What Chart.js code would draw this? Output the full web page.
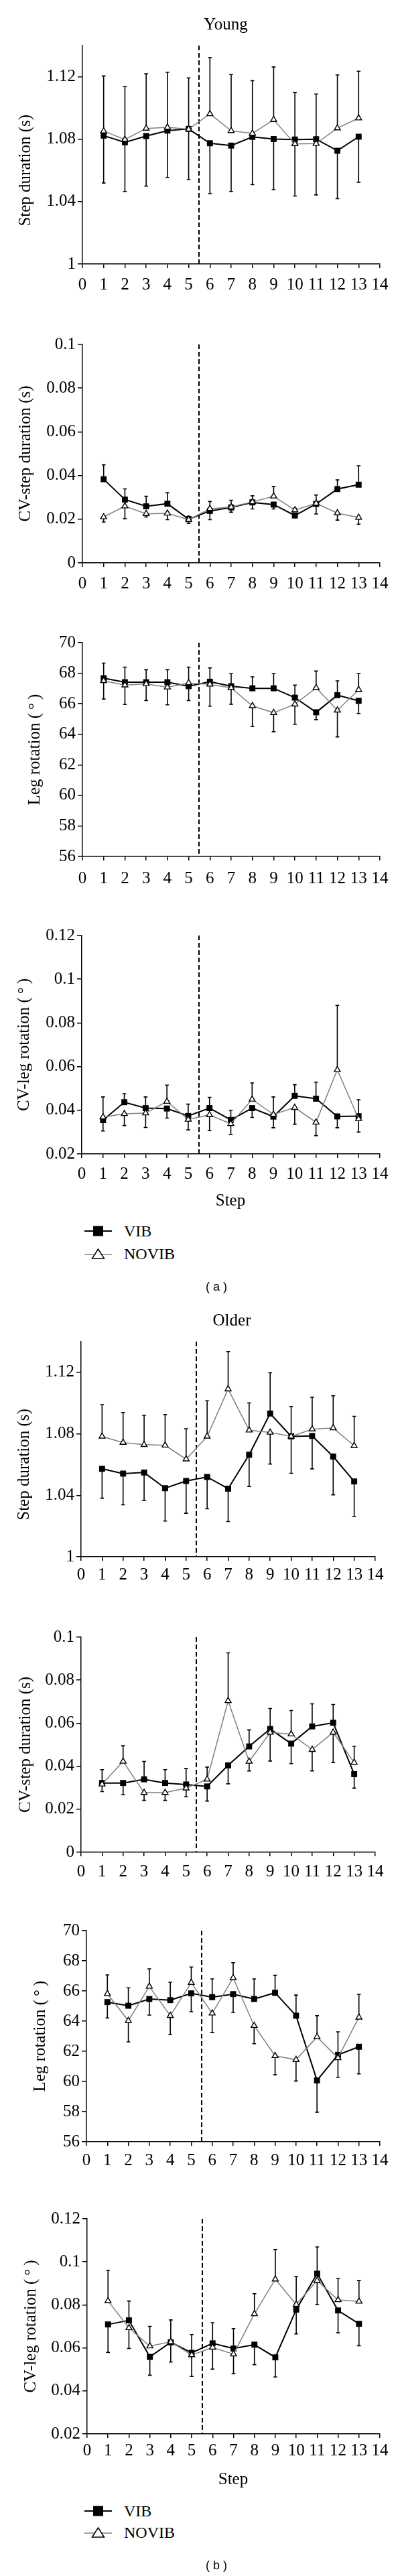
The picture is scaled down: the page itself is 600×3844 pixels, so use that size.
<!DOCTYPE html>
<html>
<head>
<meta charset="utf-8">
<script src="https://cdn.jsdelivr.net/npm/chart.js@4/dist/chart.umd.min.js"></script>
<style>
html,body{margin:0;padding:0;background:#fff;}
body{width:600px;height:3844px;position:relative;overflow:hidden;font-family:"Liberation Serif",serif;color:#000;}
.panel{position:absolute;left:0;width:600px;}
.txt{position:absolute;white-space:nowrap;line-height:1;transform:translate(-50%,-50%);font-size:25px;}
.cap{font-family:"Liberation Sans",Arial,sans-serif;font-size:18px;}
.legrow{position:absolute;left:126px;height:24px;display:flex;align-items:center;transform:translateY(-50%);font-size:24px;line-height:1;}
.legrow svg{display:block;margin-right:17px;}
</style>
</head>
<body>
<script>
// ---------- shared axis definitions ----------
const steps = [1, 2, 3, 4, 5, 6, 7, 8, 9, 10, 11, 12, 13];
const xTicks = [0, 1, 2, 3, 4, 5, 6, 7, 8, 9, 10, 11, 12, 13, 14];
const phaseBoundary = 5.5;
const stepDurTicks = [1, 1.04, 1.08, 1.12];
const cvStepTicks = [0, 0.02, 0.04, 0.06, 0.08, 0.1];
const legRotTicks = [56, 58, 60, 62, 64, 66, 68, 70];
const cvLegTicks = [0.02, 0.04, 0.06, 0.08, 0.1, 0.12];

// ---------- (a) Young ----------
const youngStepVIB      = [1.0823, 1.078, 1.082, 1.0855, 1.0866, 1.0774, 1.0759, 1.0815, 1.0801, 1.0798, 1.080, 1.0726, 1.0816];
const youngStepNOVIB    = [1.0852, 1.0798, 1.0869, 1.0876, 1.0864, 1.0962, 1.0854, 1.0837, 1.0925, 1.077, 1.0772, 1.0871, 1.0935];
const youngStepVIBErr   = [1.0519, 1.0465, 1.0499, 1.0555, 1.1193, 1.0451, 1.0465, 1.0509, 1.0477, 1.110, 1.109, 1.0419, 1.0524];
const youngStepNOVIBErr = [1.1205, 1.1137, 1.1219, 1.1229, 1.0541, 1.1322, 1.1214, 1.1175, 1.1263, 1.0436, 1.0443, 1.1212, 1.1236];

const youngCvStepVIB      = [0.0383, 0.0290, 0.0259, 0.0271, 0.0200, 0.0238, 0.0254, 0.0277, 0.0267, 0.0217, 0.0270, 0.0338, 0.0358];
const youngCvStepNOVIB    = [0.0210, 0.0260, 0.0225, 0.0227, 0.0198, 0.0248, 0.0256, 0.0279, 0.0305, 0.0242, 0.0273, 0.0228, 0.0208];
const youngCvStepVIBErr   = [0.0449, 0.0339, 0.0305, 0.0321, 0.0214, 0.0198, 0.0232, 0.0247, 0.0247, 0.0208, 0.0224, 0.0380, 0.0445];
const youngCvStepNOVIBErr = [0.0187, 0.0202, 0.0210, 0.0198, 0.0180, 0.0281, 0.0287, 0.0307, 0.0350, 0.0250, 0.0311, 0.0196, 0.0177];

const youngLegVIB      = [67.67, 67.41, 67.41, 67.41, 67.15, 67.44, 67.15, 67.01, 67.01, 66.40, 65.44, 66.56, 66.19];
const youngLegNOVIB    = [67.50, 67.22, 67.30, 67.08, 67.36, 67.27, 67.04, 65.86, 65.41, 65.97, 67.04, 65.57, 66.92];
const youngLegVIBErr   = [68.66, 68.40, 68.23, 68.23, 66.21, 68.35, 67.97, 67.76, 67.97, 67.22, 64.96, 67.50, 65.36];
const youngLegNOVIBErr = [66.31, 65.95, 66.21, 65.93, 68.40, 65.84, 65.97, 64.52, 64.17, 64.66, 68.14, 63.83, 67.97];

const youngCvLegVIB      = [0.0355, 0.0437, 0.0410, 0.0408, 0.0374, 0.0410, 0.0356, 0.0410, 0.0371, 0.0466, 0.0453, 0.0372, 0.0373];
const youngCvLegNOVIB    = [0.0369, 0.0384, 0.0387, 0.0440, 0.0358, 0.0379, 0.0338, 0.0450, 0.0381, 0.0412, 0.0345, 0.0585, 0.0361];
const youngCvLegVIBErr   = [0.0305, 0.0476, 0.0461, 0.0364, 0.0428, 0.0459, 0.0400, 0.0367, 0.0320, 0.0517, 0.0529, 0.0320, 0.0448];
const youngCvLegNOVIBErr = [0.0461, 0.0330, 0.0321, 0.0515, 0.0310, 0.0307, 0.0289, 0.0525, 0.0461, 0.0336, 0.0284, 0.0880, 0.0300];

// ---------- (b) Older ----------
const olderStepVIB      = [1.0572, 1.0541, 1.0548, 1.0446, 1.0493, 1.0519, 1.0443, 1.0664, 1.0932, 1.0783, 1.0786, 1.0652, 1.0490];
const olderStepNOVIB    = [1.0783, 1.0743, 1.0729, 1.0725, 1.0635, 1.0783, 1.1091, 1.0823, 1.0809, 1.0783, 1.0830, 1.0838, 1.0722];
const olderStepVIBErr   = [1.0381, 1.0338, 1.0367, 1.0232, 1.0283, 1.0312, 1.0229, 1.0457, 1.1197, 1.0543, 1.0572, 1.0403, 1.0262];
const olderStepNOVIBErr = [1.0990, 1.0939, 1.0920, 1.0925, 1.0833, 1.1015, 1.1335, 1.1001, 1.0603, 1.0978, 1.1038, 1.1048, 1.0914];

const olderCvStepVIB      = [0.0322, 0.0322, 0.0339, 0.0322, 0.0315, 0.0306, 0.0404, 0.0492, 0.0573, 0.0505, 0.0585, 0.0602, 0.0363];
const olderCvStepNOVIB    = [0.0316, 0.0422, 0.0277, 0.0277, 0.0298, 0.0339, 0.0704, 0.0422, 0.0557, 0.0549, 0.0477, 0.0557, 0.0417];
const olderCvStepVIBErr   = [0.0384, 0.0267, 0.0422, 0.0384, 0.0389, 0.0238, 0.0318, 0.0569, 0.0668, 0.0412, 0.0690, 0.0687, 0.0298];
const olderCvStepNOVIBErr = [0.0282, 0.0495, 0.0241, 0.0241, 0.0258, 0.0396, 0.0927, 0.0378, 0.0424, 0.0659, 0.0378, 0.0417, 0.0493];

const olderLegVIB      = [65.26, 65.02, 65.47, 65.39, 65.84, 65.59, 65.79, 65.47, 65.88, 64.36, 60.07, 61.76, 62.30];
const olderLegNOVIB    = [65.81, 64.03, 66.30, 64.36, 66.55, 64.52, 66.87, 63.70, 61.70, 61.44, 62.95, 61.56, 64.25];
const olderLegVIBErr   = [64.21, 66.21, 64.40, 66.58, 64.62, 66.80, 64.58, 66.80, 67.04, 65.73, 57.96, 63.29, 60.50];
const olderLegNOVIBErr = [67.07, 62.62, 67.47, 63.11, 67.59, 63.24, 67.88, 62.50, 60.44, 60.03, 64.36, 60.28, 65.78];

const olderCvLegVIB      = [0.0709, 0.0728, 0.0558, 0.0626, 0.0577, 0.0621, 0.0597, 0.0615, 0.0556, 0.0778, 0.0945, 0.0774, 0.0712];
const olderCvLegNOVIB    = [0.0818, 0.0693, 0.0608, 0.0628, 0.0567, 0.0602, 0.0571, 0.0758, 0.0919, 0.0802, 0.0913, 0.0823, 0.0816];
const olderCvLegVIBErr   = [0.0579, 0.0818, 0.0473, 0.0534, 0.0662, 0.0717, 0.0690, 0.0522, 0.0465, 0.0665, 0.1069, 0.0670, 0.0610];
const olderCvLegNOVIBErr = [0.0961, 0.0597, 0.0700, 0.0730, 0.0467, 0.0501, 0.0480, 0.0852, 0.1057, 0.0932, 0.0802, 0.0922, 0.0913];

const seriesNames = ['VIB', 'NOVIB'];

// ---------- panel layout (positions only) ----------
const panels = [
  {vib: youngStepVIB, novib: youngStepNOVIB, vibErr: youngStepVIBErr, novibErr: youngStepNOVIBErr, yMin: 1, yMax: 1.14, yTicks: stepDurTicks, title: 'Step duration (s)', top: 68, bottom: 394, x0: 123, x14: 567, titleX: 38, labelGap: 31},
  {vib: youngCvStepVIB, novib: youngCvStepNOVIB, vibErr: youngCvStepVIBErr, novibErr: youngCvStepNOVIBErr, yMin: 0, yMax: 0.1, yTicks: cvStepTicks, title: 'CV-step duration (s)', top: 514, bottom: 840, x0: 123, x14: 567, titleX: 38, labelGap: 31},
  {vib: youngLegVIB, novib: youngLegNOVIB, vibErr: youngLegVIBErr, novibErr: youngLegNOVIBErr, yMin: 56, yMax: 70, yTicks: legRotTicks, title: 'Leg rotation (\u2009\u00B0\u2009)', top: 959, bottom: 1278, x0: 123, x14: 567, titleX: 52, labelGap: 33},
  {vib: youngCvLegVIB, novib: youngCvLegNOVIB, vibErr: youngCvLegVIBErr, novibErr: youngCvLegNOVIBErr, yMin: 0.02, yMax: 0.12, yTicks: cvLegTicks, title: 'CV-leg rotation (\u2009\u00B0\u2009)', top: 1396, bottom: 1722, x0: 122, x14: 567, titleX: 36, labelGap: 30},
  {vib: olderStepVIB, novib: olderStepNOVIB, vibErr: olderStepVIBErr, novibErr: olderStepNOVIBErr, yMin: 1, yMax: 1.14, yTicks: stepDurTicks, title: 'Step duration (s)', top: 2002, bottom: 2323, x0: 121, x14: 560, titleX: 36, labelGap: 27},
  {vib: olderCvStepVIB, novib: olderCvStepNOVIB, vibErr: olderCvStepVIBErr, novibErr: olderCvStepNOVIBErr, yMin: 0, yMax: 0.1, yTicks: cvStepTicks, title: 'CV-step duration (s)', top: 2443, bottom: 2764, x0: 121, x14: 560, titleX: 38, labelGap: 29},
  {vib: olderLegVIB, novib: olderLegNOVIB, vibErr: olderLegVIBErr, novibErr: olderLegNOVIBErr, yMin: 56, yMax: 70, yTicks: legRotTicks, title: 'Leg rotation (\u2009\u00B0\u2009)', top: 2881, bottom: 3196, x0: 129, x14: 567, titleX: 60, labelGap: 28},
  {vib: olderCvLegVIB, novib: olderCvLegNOVIB, vibErr: olderCvLegVIBErr, novibErr: olderCvLegNOVIBErr, yMin: 0.02, yMax: 0.12, yTicks: cvLegTicks, title: 'CV-leg rotation (\u2009\u00B0\u2009)', top: 3311, bottom: 3632, x0: 130, x14: 567, titleX: 46, labelGap: 25}
];

const FONT = '"Liberation Serif", "Times New Roman", serif';
const PADT = 30, XH = 64;

const errPlugin = {
  id: 'errbars',
  beforeDatasetsDraw(chart) {
    const ctx = chart.ctx, xs = chart.scales.x, ys = chart.scales.y;
    ctx.save();
    ctx.strokeStyle = '#000';
    ctx.lineWidth = 1.6;
    chart.data.datasets.forEach(ds => {
      ds.data.forEach((pt, i) => {
        const px = xs.getPixelForValue(pt.x);
        const py = ys.getPixelForValue(pt.y);
        const pe = ys.getPixelForValue(ds.errEnd[i]);
        ctx.beginPath();
        ctx.moveTo(px, py); ctx.lineTo(px, pe);
        ctx.moveTo(px - 2.8, pe); ctx.lineTo(px + 2.8, pe);
        ctx.stroke();
      });
    });
    ctx.restore();
  }
};

const dashPlugin = {
  id: 'phase',
  beforeDatasetsDraw(chart) {
    const ctx = chart.ctx, a = chart.chartArea;
    const px = Math.round(chart.scales.x.getPixelForValue(phaseBoundary));
    ctx.save();
    ctx.strokeStyle = '#000';
    ctx.lineWidth = 2;
    ctx.setLineDash([7, 4]);
    ctx.beginPath();
    ctx.moveTo(px, a.top); ctx.lineTo(px, a.bottom);
    ctx.stroke();
    ctx.restore();
  }
};

const titlePlugin = {
  id: 'ytitle',
  afterDraw(chart, args, opts) {
    const ctx = chart.ctx, ys = chart.scales.y;
    const t = opts.ticks;
    const cy = (ys.getPixelForValue(t[0]) + ys.getPixelForValue(t[t.length - 1])) / 2;
    ctx.save();
    ctx.translate(opts.x, cy);
    ctx.rotate(-Math.PI / 2);
    ctx.fillStyle = '#000';
    ctx.font = '25px ' + FONT;
    ctx.textAlign = 'center';
    ctx.textBaseline = 'middle';
    ctx.fillText(opts.text, 0, 0);
    ctx.restore();
  }
};

panels.forEach(p => {
  const h = (p.bottom - p.top) + PADT + XH;
  const div = document.createElement('div');
  div.className = 'panel';
  div.style.top = (p.top - PADT) + 'px';
  div.style.height = h + 'px';
  const cv = document.createElement('canvas');
  cv.width = 600; cv.height = h;
  cv.style.width = '600px'; cv.style.height = h + 'px';
  div.appendChild(cv);
  document.body.appendChild(div);

  const axisCommon = {
    border: {display: true, color: '#000', width: 1.5},
    ticks: {color: '#000', font: {family: FONT, size: 25}, autoSkip: false, maxRotation: 0, callback: v => String(v)}
  };

  new Chart(cv, {
    type: 'line',
    data: {
      datasets: [
        {
          label: seriesNames[0],
          data: steps.map((s, i) => ({x: s, y: p.vib[i]})),
          errEnd: p.vibErr,
          borderColor: '#000', backgroundColor: '#000', borderWidth: 2,
          pointStyle: 'rect', pointRadius: 6.3, pointBorderWidth: 0,
          pointBackgroundColor: '#000', pointBorderColor: '#000',
          tension: 0, order: 2
        },
        {
          label: seriesNames[1],
          data: steps.map((s, i) => ({x: s, y: p.novib[i]})),
          errEnd: p.novibErr,
          borderColor: '#808080', backgroundColor: '#fff', borderWidth: 1.5,
          pointStyle: 'triangle', pointRadius: 5.2, pointBorderWidth: 1.4,
          pointBackgroundColor: '#fff', pointBorderColor: '#000',
          tension: 0, order: 1
        }
      ]
    },
    options: {
      responsive: false, animation: false, devicePixelRatio: 1, events: [],
      layout: {padding: {top: PADT, right: 600 - p.x14, left: 0, bottom: 0}},
      plugins: {
        legend: {display: false}, tooltip: {enabled: false},
        ytitle: {text: p.title, x: p.titleX, ticks: p.yTicks}
      },
      scales: {
        x: {
          type: 'linear', min: 0, max: 14,
          afterBuildTicks: s => { s.ticks = xTicks.map(v => ({value: v})); },
          afterFit: s => { s.height = XH; },
          grid: {display: true, drawOnChartArea: false, drawTicks: true, tickLength: 6, color: '#000', lineWidth: 1.5},
          border: axisCommon.border,
          ticks: Object.assign({}, axisCommon.ticks, {padding: p.labelGap - 6 - 15})
        },
        y: {
          type: 'linear', min: p.yMin, max: p.yMax,
          afterBuildTicks: s => { s.ticks = p.yTicks.map(v => ({value: v})); },
          afterFit: s => { s.width = p.x0; },
          grid: {display: true, drawOnChartArea: false, drawTicks: true, tickLength: 7, color: '#000', lineWidth: 1.5},
          border: axisCommon.border,
          ticks: Object.assign({}, axisCommon.ticks, {padding: 3})
        }
      }
    },
    plugins: [errPlugin, dashPlugin, titlePlugin]
  });
});

// ---------- texts & legends ----------
function addText(txt, x, y, cls) {
  const d = document.createElement('div');
  d.className = 'txt' + (cls ? ' ' + cls : '');
  d.style.left = x + 'px'; d.style.top = y + 'px';
  d.textContent = txt;
  document.body.appendChild(d);
}
function addLegend(yVib, yNovib) {
  const rows = [
    {y: yVib, name: seriesNames[0], svg: '<svg width="42" height="20"><line x1="0" y1="10" x2="41" y2="10" stroke="#000" stroke-width="2"/><rect x="13" y="2.5" width="15" height="15" fill="#000"/></svg>'},
    {y: yNovib, name: seriesNames[1], svg: '<svg width="42" height="20"><line x1="0" y1="11" x2="41" y2="11" stroke="#808080" stroke-width="1.5"/><polygon points="20.5,3 29.5,17 11.5,17" fill="#fff" stroke="#000" stroke-width="1.5"/></svg>'}
  ];
  rows.forEach(r => {
    const d = document.createElement('div');
    d.className = 'legrow';
    d.style.top = r.y + 'px';
    d.innerHTML = r.svg;
    const s = document.createElement('span');
    s.textContent = r.name;
    d.appendChild(s);
    document.body.appendChild(d);
  });
}
addText('Young', 337, 35);
addText('Step', 344, 1790);
addLegend(1837, 1871);
addText('( a )', 323, 1920, 'cap');
addText('Older', 346, 1969);
addText('Step', 348, 3698);
addLegend(3747, 3779);
addText('( b )', 323, 3828, 'cap');
</script>
</body>
</html>
